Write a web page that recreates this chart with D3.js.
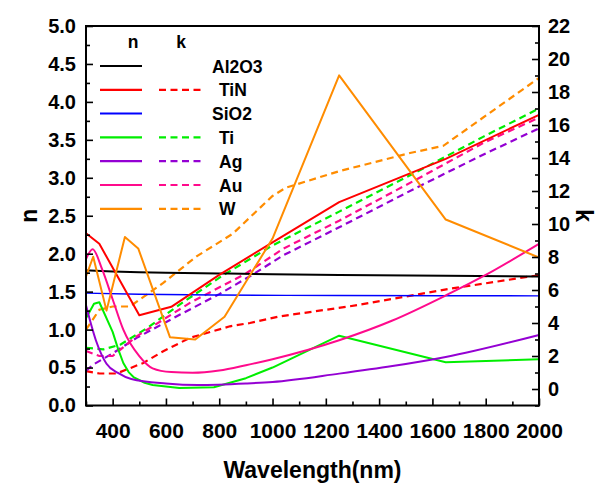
<!DOCTYPE html>
<html>
<head>
<meta charset="utf-8">
<script src="https://cdn.jsdelivr.net/npm/d3@7"></script>
<style>
  body { margin: 0; background: #fff; }
  svg { display: block; font-family: "Liberation Sans", Arial, sans-serif; font-weight: bold; }
  .tick text { font-size: 20px; fill: #000; }
  .tick line { stroke: #000; stroke-width: 1.6; }
</style>
</head>
<body>
<svg id="chart" width="598" height="484"></svg>
<script>
// ---- data (wavelength in nm) ----
var al2o3Wl = [300, 400, 500, 600, 800, 1000, 1250, 1650, 2000];
var al2o3N  = [1.78, 1.765, 1.755, 1.75, 1.74, 1.73, 1.72, 1.71, 1.70];

var sio2Wl = [300, 500, 800, 1250, 2000];
var sio2N  = [1.48, 1.465, 1.455, 1.45, 1.445];

var tinNWl = [300, 350, 500, 620, 800, 1000, 1250, 1650, 2000];
var tinN   = [2.27, 2.13, 1.19, 1.30, 1.72, 2.15, 2.68, 3.25, 3.83];
var tinKWl = [300, 350, 415, 515, 590, 690, 840, 915, 1030, 1290, 1660, 2000];
var tinK   = [1.08, 0.94, 0.94, 1.58, 2.29, 3.10, 3.80, 4.0, 4.41, 5.01, 6.06, 6.9];

var tiNWl = [300, 330, 350, 400, 420, 440, 460, 480, 520, 550, 650, 780, 900, 1000, 1250, 1650, 2000];
var tiN   = [1.15, 1.34, 1.36, 0.97, 0.75, 0.56, 0.44, 0.37, 0.30, 0.27, 0.23, 0.24, 0.36, 0.50, 0.92, 0.57, 0.61];
var tiKWl = [300, 365, 430, 530, 650, 815, 1000, 1250, 1540, 1790, 2000];
var tiK   = [2.5, 2.4, 2.7, 3.7, 5.1, 6.9, 8.7, 10.75, 13.15, 15.28, 17.0];

var agNWl = [300, 337, 377, 420, 470, 600, 720, 900, 1000, 1250, 1450, 1650, 2000];
var agN   = [1.32, 0.86, 0.55, 0.43, 0.35, 0.29, 0.27, 0.29, 0.31, 0.42, 0.52, 0.64, 0.93];
var agKWl = [300, 327, 403, 490, 653, 800, 915, 1040, 1250, 1540, 1790, 2000];
var agK   = [1.1, 1.48, 2.19, 3.10, 4.51, 5.75, 6.83, 8.1, 9.8, 12.2, 14.2, 15.8];

var auNWl = [300, 325, 360, 400, 440, 500, 550, 620, 700, 800, 900, 1000, 1250, 1450, 1650, 1800, 2000];
var auN   = [1.93, 2.06, 1.80, 1.40, 1.00, 0.65, 0.49, 0.44, 0.43, 0.46, 0.53, 0.61, 0.86, 1.12, 1.45, 1.72, 2.13];
var auKWl = [300, 350, 400, 490, 690, 900, 1040, 1250, 1540, 1790, 2000];
var auK   = [2.3, 2.0, 2.0, 3.19, 5.22, 7.0, 8.5, 10.2, 12.7, 14.9, 16.45];

var wNWl = [300, 327, 377, 446, 496, 615, 710, 820, 1000, 1250, 1650, 2000];
var wN   = [1.70, 1.96, 1.25, 2.22, 2.07, 0.90, 0.87, 1.17, 2.2, 4.35, 2.45, 1.95];
var wKWl = [300, 350, 400, 465, 590, 715, 850, 1000, 1050, 1250, 1516, 1641, 2000];
var wK   = [3.6, 4.8, 5.0, 5.0, 6.43, 8.04, 9.4, 11.7, 12.2, 13.2, 14.3, 14.74, 18.85];

var xTicks = [400, 600, 800, 1000, 1200, 1400, 1600, 1800, 2000];
var nTicks = [0, 0.5, 1, 1.5, 2, 2.5, 3, 3.5, 4, 4.5, 5];
var kTicks = [0, 2, 4, 6, 8, 10, 12, 14, 16, 18, 20, 22];

var legendRows = [
  { name: "Al2O3", color: "#000000", hasK: false },
  { name: "TiN",   color: "#ff0000", hasK: true },
  { name: "SiO2",  color: "#0000ff", hasK: false },
  { name: "Ti",    color: "#00ee00", hasK: true },
  { name: "Ag",    color: "#9400d3", hasK: true },
  { name: "Au",    color: "#ff0a8c", hasK: true },
  { name: "W",     color: "#ff8c00", hasK: true }
];

var nSeries = [
  { wl: al2o3Wl, v: al2o3N, color: "#000000", w: 2, smooth: true },
  { wl: sio2Wl,  v: sio2N,  color: "#0000ff", w: 1.4, smooth: true },
  { wl: tinNWl,  v: tinN,   color: "#ff0000", w: 2 },
  { wl: tiNWl,   v: tiN,    color: "#00ee00", w: 2 },
  { wl: agNWl,   v: agN,    color: "#9400d3", w: 2, smooth: true },
  { wl: auNWl,   v: auN,    color: "#ff0a8c", w: 2, smooth: true },
  { wl: wNWl,    v: wN,     color: "#ff8c00", w: 2 }
];
var kSeries = [
  { wl: tinKWl, v: tinK, color: "#ff0000" },
  { wl: tiKWl,  v: tiK,  color: "#00ee00" },
  { wl: agKWl,  v: agK,  color: "#9400d3" },
  { wl: auKWl,  v: auK,  color: "#ff0a8c" },
  { wl: wKWl,   v: wK,   color: "#ff8c00" }
];

// ---- layout ----
var plotL = 86, plotR = 539, plotT = 26, plotB = 405.5;
var svg = d3.select("#chart");

var x = d3.scaleLinear().domain([300, 2000]).range([plotL, plotR]);
var yN = d3.scaleLinear().domain([0, 5]).range([plotB, plotT]);
var yK = d3.scaleLinear().domain([-1, 22]).range([plotB, plotT]);

var dash = "7,4.5";

// lines
var plot = svg.append("g");
var toPts = function (s) { return s.wl.map(function (w, i) { return [w, s.v[i]]; }); };

var lineN = d3.line().x(function (d) { return x(d[0]); }).y(function (d) { return yN(d[1]); });
var lineK = d3.line().x(function (d) { return x(d[0]); }).y(function (d) { return yK(d[1]); });

kSeries.forEach(function (s) {
  plot.append("path")
    .attr("d", lineK(toPts(s)))
    .attr("fill", "none")
    .attr("stroke", s.color)
    .attr("stroke-width", 2.2)
    .attr("stroke-dasharray", dash);
});
nSeries.forEach(function (s) {
  lineN.curve(s.smooth ? d3.curveMonotoneX : d3.curveLinear);
  plot.append("path")
    .attr("d", lineN(toPts(s)))
    .attr("fill", "none")
    .attr("stroke", s.color)
    .attr("stroke-width", s.w)
    .attr("stroke-linejoin", "round");
});

// axes, ticks drawn inward
var minorX = d3.range(300, 2001, 100).filter(function (v) { return v % 200 != 0; });
var minorN = d3.range(0.25, 5, 0.5);
var minorK = d3.range(-1, 22, 2);

svg.append("g").attr("transform", "translate(0," + plotB + ")")
  .call(d3.axisBottom(x).tickValues(xTicks).tickSize(-7).tickPadding(18).tickFormat(d3.format("d")))
  .call(function (g) { g.select(".domain").remove(); g.selectAll("text").style("font-size", "21px"); });
svg.append("g").attr("transform", "translate(0," + plotB + ")")
  .call(d3.axisBottom(x).tickValues(minorX).tickSize(-4).tickFormat(""))
  .call(function (g) { g.select(".domain").remove(); });

svg.append("g").attr("transform", "translate(" + plotL + ",0)")
  .call(d3.axisLeft(yN).tickValues(nTicks).tickSize(-7).tickPadding(10).tickFormat(d3.format(".1f")))
  .call(function (g) { g.select(".domain").remove(); });
svg.append("g").attr("transform", "translate(" + plotL + ",0)")
  .call(d3.axisLeft(yN).tickValues(minorN).tickSize(-4).tickFormat(""))
  .call(function (g) { g.select(".domain").remove(); });

svg.append("g").attr("transform", "translate(" + plotR + ",0)")
  .call(d3.axisRight(yK).tickValues(kTicks).tickSize(-7).tickPadding(9).tickFormat(d3.format("d")))
  .call(function (g) { g.select(".domain").remove(); });
svg.append("g").attr("transform", "translate(" + plotR + ",0)")
  .call(d3.axisRight(yK).tickValues(minorK).tickSize(-4).tickFormat(""))
  .call(function (g) { g.select(".domain").remove(); });

// frame
svg.append("rect")
  .attr("x", plotL).attr("y", plotT)
  .attr("width", plotR - plotL).attr("height", plotB - plotT)
  .attr("fill", "none").attr("stroke", "#000").attr("stroke-width", 2);

// axis titles
svg.append("text").attr("x", (plotL + plotR) / 2).attr("y", 478)
  .attr("text-anchor", "middle").style("font-size", "23px").text("Wavelength(nm)");
svg.append("text").attr("transform", "translate(37," + ((plotT + plotB) / 2) + ") rotate(-90)")
  .attr("text-anchor", "middle").style("font-size", "23px").text("n");
svg.append("text").attr("transform", "translate(576," + ((plotT + plotB) / 2) + ") rotate(90)")
  .attr("text-anchor", "middle").style("font-size", "23px").text("k");

// legend
var lg = svg.append("g").style("font-size", "17.5px");
lg.append("text").attr("x", 133).attr("y", 48).attr("text-anchor", "middle").text("n");
lg.append("text").attr("x", 181).attr("y", 48).attr("text-anchor", "middle").text("k");
legendRows.forEach(function (r, i) {
  var yy = 66 + i * 23.8;
  lg.append("line").attr("x1", 100).attr("x2", 142).attr("y1", yy).attr("y2", yy)
    .attr("stroke", r.color).attr("stroke-width", r.name == "SiO2" ? 2 : 2.2);
  if (r.hasK) {
    lg.append("line").attr("x1", 159).attr("x2", 202).attr("y1", yy).attr("y2", yy)
      .attr("stroke", r.color).attr("stroke-width", 2.2).attr("stroke-dasharray", dash);
  }
  lg.append("text").attr("x", r.hasK ? 219 : 212).attr("y", yy + 6.5).text(r.name);
});
</script>
</body>
</html>
